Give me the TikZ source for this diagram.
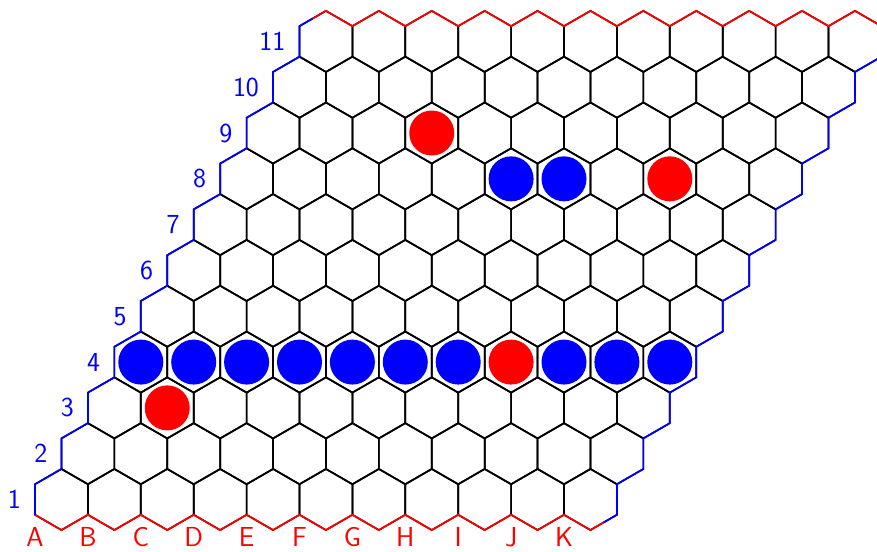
\documentclass[tikz,border=0pt]{standalone}
\usepackage{fontspec}
\usetikzlibrary{calc}
\begin{document}
\begin{tikzpicture}[x=1pt,y=-1pt,
  hexline/.style={line width=1.7pt, draw=black},
  redb/.style={line width=1.7pt, draw=red, line join=miter},
  blueb/.style={line width=1.7pt, draw=blue, line join=miter},
  stone/.style={circle, inner sep=0pt, minimum size=45pt, draw=none},
  lbl/.style={inner sep=0pt, font=\sffamily\fontsize{27.5}{33}\selectfont},
  collabel/.style={lbl, text=red, anchor=base},
  rowlabel/.style={lbl, text=blue, anchor=east}]
\clip (0,0) rectangle (877,551);
\def\W{52.9}
\def\R{30.54}
% hexagons
\foreach \i in {0,...,10}{
  \foreach \j in {0,...,10}{
    \pgfmathsetmacro\cx{35+\W/2+\i*\W+\j*\W/2}
    \pgfmathsetmacro\cy{499.5-1.5*\R*\j}
    \draw[hexline] (\cx,\cy) ++(0,-\R) -- ++(\W/2,\R/2) -- ++(0,\R) -- ++(-\W/2,\R/2)
      -- ++(-\W/2,-\R/2) -- ++(0,-\R) -- cycle;
  }
}
% bottom border (red)
\draw[redb] (35,{499.5+\R/2})
  \foreach \i in {0,...,9}{ -- ({35+\W/2+\i*\W},{499.5+\R}) -- ({35+(\i+1)*\W},{499.5+\R/2}) }
  -- ({35+10.5*\W},{499.5+\R}) -- ({35+10.75*\W},{499.5+0.75*\R});
% right border (blue)
\draw[blueb] ({35+10.75*\W},{499.5+0.75*\R}) -- ({35+11*\W},{499.5+\R/2}) -- ({35+11*\W},{499.5-\R/2})
  \foreach \j in {1,...,10}{ -- ({35+11*\W+\j*\W/2},{499.5-1.5*\R*\j+\R/2}) -- ({35+11*\W+\j*\W/2},{499.5-1.5*\R*\j-\R/2}) };
% left border (blue)
\draw[blueb] (35,{499.5+\R/2}) -- (35,{499.5-\R/2})
  \foreach \j in {1,...,10}{ -- ({35+\j*\W/2},{499.5-1.5*\R*\j+\R/2}) -- ({35+\j*\W/2},{499.5-1.5*\R*\j-\R/2}) }
  -- ({35+5.25*\W},{499.5-15*\R-0.75*\R});
% top border (red)
\draw[redb] ({35+5.25*\W},{499.5-15.75*\R}) -- ({35+5.5*\W},{499.5-16*\R}) -- ({35+6*\W},{499.5-15.5*\R})
  \foreach \i in {1,...,10}{ -- ({35+5.5*\W+\i*\W},{499.5-16*\R}) -- ({35+6*\W+\i*\W},{499.5-15.5*\R}) };
% stones
\foreach \i/\j/\c/\n in {0/3/blue/a4,1/3/blue/b4,2/3/blue/c4,3/3/blue/d4,4/3/blue/e4,5/3/blue/f4,6/3/blue/g4,
    7/3/red/h4,8/3/blue/i4,9/3/blue/j4,10/3/blue/k4,1/2/red/b3,5/7/blue/f8,6/7/blue/g8,8/7/red/i8,3/8/red/d9}{
  \node[stone, fill=\c] (\n) at ({35+\W/2+\i*\W+\j*\W/2},{499.5-1.5*\R*\j}) {};
}
% column labels
\foreach \l [count=\i from 0] in {A,B,C,D,E,F,G,H,I,J,K}{
  \node[collabel] (col\l) at ({35+\i*\W},546) {\l};
}
% row labels
\foreach \j [evaluate=\j as \n using int(\j+1)] in {0,...,10}{
  \node[rowlabel] (row\n) at ({35+\j*\W/2-14},{499.5-1.5*\R*\j}) {\n};
}
\end{tikzpicture}
\end{document}
